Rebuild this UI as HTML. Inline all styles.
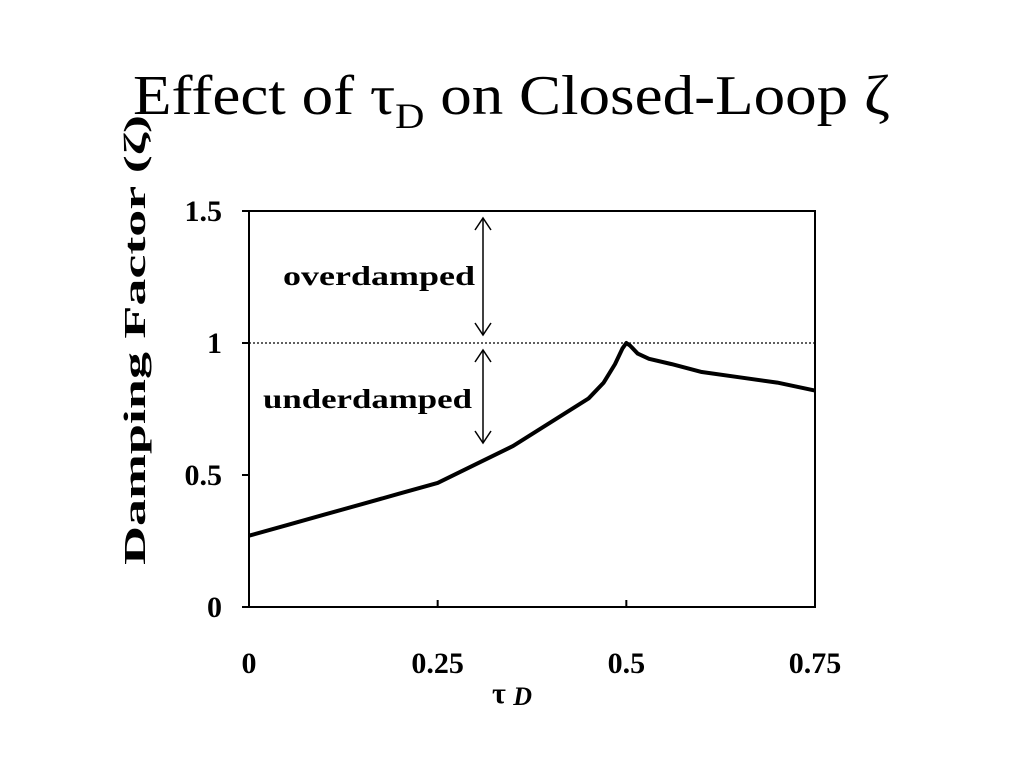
<!DOCTYPE html>
<html><head><meta charset="utf-8"><style>
body{margin:0;background:#fff;}
svg{display:block;font-family:"Liberation Serif",serif;}
</style></head><body>
<svg width="1024" height="768">
<text x="133" y="114" font-size="56" textLength="757" lengthAdjust="spacingAndGlyphs">Effect of τ<tspan font-size="36" dy="14">D</tspan><tspan dy="-14"> on Closed-Loop ζ</tspan></text>
<g id="axes"></g>
<text transform="translate(145,565) rotate(-90)" font-size="31" font-weight="bold" textLength="450" lengthAdjust="spacingAndGlyphs">Damping Factor (ζ)</text>
<text x="512" y="703" font-size="30" font-weight="bold" text-anchor="middle">τ <tspan font-style="italic" font-size="26" dy="2">D</tspan></text>
<text x="283" y="285" font-size="27" font-weight="bold" textLength="192" lengthAdjust="spacingAndGlyphs">overdamped</text>
<text x="263" y="408" font-size="27" font-weight="bold" textLength="209" lengthAdjust="spacingAndGlyphs">underdamped</text>
<g stroke="#000" stroke-width="1.5" fill="none">
<line x1="483" y1="218" x2="483" y2="335"/><polyline points="475,230 483,218 491,230"/><polyline points="475,323 483,335 491,323"/>
<line x1="483" y1="350" x2="483" y2="443"/><polyline points="475,362 483,350 491,362"/><polyline points="475,431 483,443 491,431"/>
</g>
</svg>
<script>
const xTicks=[0,0.25,0.5,0.75];
const xTickLabels=["0","0.25","0.5","0.75"];
const yTicks=[0,0.5,1,1.5];
const yTickLabels=["0","0.5","1","1.5"];
const tauD=[0,0.05,0.1,0.15,0.2,0.25,0.3,0.35,0.4,0.45,0.47,0.485,0.495,0.5,0.505,0.515,0.53,0.56,0.6,0.65,0.7,0.75];
const zeta=[0.27,0.31,0.35,0.39,0.43,0.47,0.54,0.61,0.70,0.79,0.85,0.92,0.98,1.0,0.99,0.96,0.94,0.92,0.89,0.87,0.85,0.82];
const X0=249,X1=815,Y0=607,Y1=211;
const sx=v=>X0+(v-0)/(0.75)*(X1-X0);
const sy=v=>Y0-(v/1.5)*(Y0-Y1);
const ns="http://www.w3.org/2000/svg";
const g=document.getElementById('axes');
function mk(t,a){const e=document.createElementNS(ns,t);for(const k in a)e.setAttribute(k,a[k]);g.appendChild(e);return e;}
const frame=mk('rect',{x:X0,y:Y1,width:X1-X0,height:Y0-Y1,fill:'none',stroke:'#000','stroke-width':2});


const ref=mk('line',{x1:X0,x2:X1,y1:sy(1),y2:sy(1),stroke:'#000','stroke-width':1.2,'stroke-dasharray':'2,2'});


xTicks.forEach((v,i)=>{
 const t=mk('line',{x1:sx(v),x2:sx(v),y1:Y0,y2:Y0-7,stroke:'#000','stroke-width':2});
 
 
 const l=mk('text',{x:sx(v),y:673,'font-size':30,'font-weight':'bold','text-anchor':'middle'});
 l.textContent=xTickLabels[i];
 
 
});
yTicks.forEach((v,i)=>{
 const t=mk('line',{x1:X0-7,x2:X0,y1:sy(v),y2:sy(v),stroke:'#000','stroke-width':2});
 
 
 const l=mk('text',{x:222,y:sy(v)+10,'font-size':30,'font-weight':'bold','text-anchor':'end'});
 l.textContent=yTickLabels[i];
 
 
});
const p=mk('polyline',{points:tauD.map((v,i)=>sx(v)+','+sy(zeta[i])).join(' '),fill:'none',stroke:'#000','stroke-width':4,'stroke-linejoin':'round'});


</script>
</body></html>
